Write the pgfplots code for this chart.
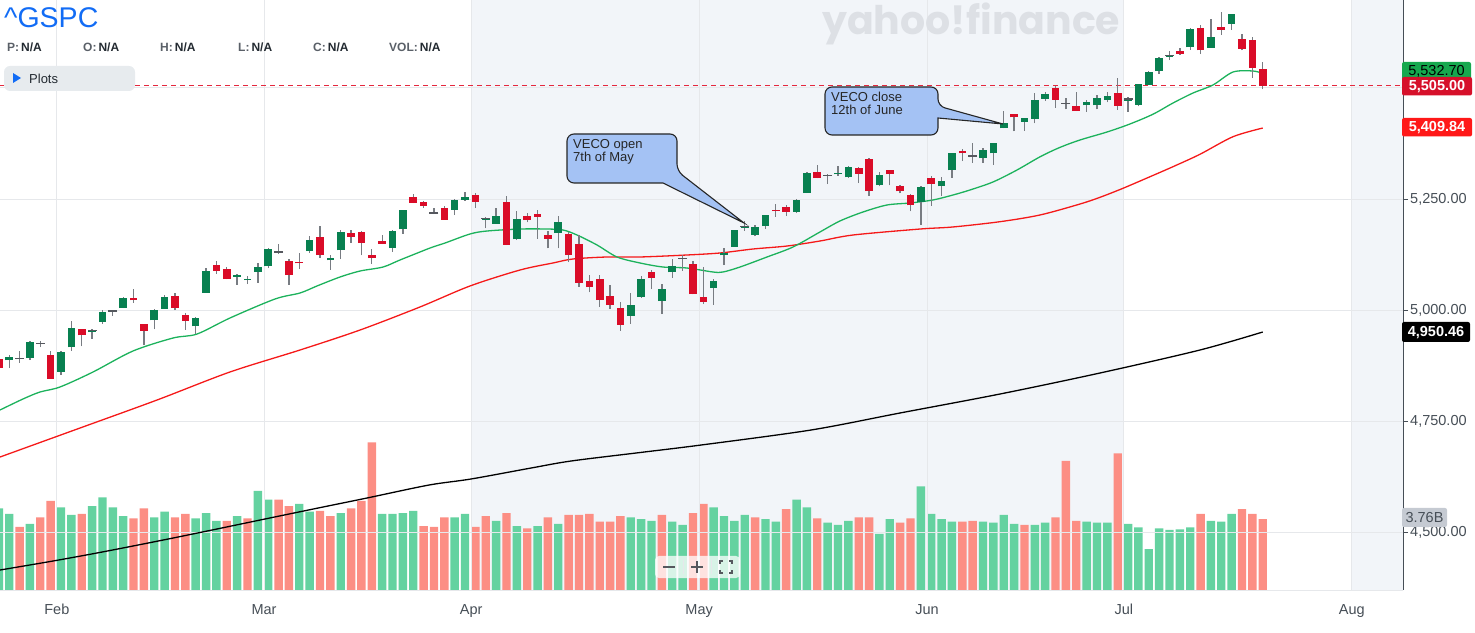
\documentclass[border=0pt]{standalone}
\usepackage{fontspec}
\setmainfont{Liberation Sans}
\newfontfamily\poppins{Poppins}
\usepackage{graphicx}
\usepackage{pgfplots}
\pgfplotsset{compat=1.18}
\usepackage{pgfplotstable}

\definecolor{shadecol}{RGB}{242,245,249}
\definecolor{gridcol}{RGB}{230,232,235}
\definecolor{labelcol}{RGB}{70,78,86}
\definecolor{axiscol}{RGB}{70,78,86}
\definecolor{candleup}{RGB}{8,128,80}
\definecolor{candledn}{RGB}{218,12,40}
\definecolor{wickcol}{RGB}{120,124,130}
\definecolor{dojicol}{RGB}{85,88,94}
\definecolor{volup}{RGB}{100,210,160}
\definecolor{voldn}{RGB}{252,142,132}
\definecolor{magreen}{RGB}{28,178,92}
\definecolor{mared}{RGB}{245,25,25}
\definecolor{dashred}{RGB}{228,40,62}
\definecolor{yblue}{RGB}{18,108,245}
\definecolor{stattext}{RGB}{35,42,49}
\definecolor{statgray}{RGB}{90,96,104}
\definecolor{plotsbg}{RGB}{231,235,238}
\definecolor{watermark}{RGB}{221,224,229}
\definecolor{callout}{RGB}{164,194,244}
\definecolor{lblgreen}{RGB}{22,168,78}
\definecolor{lbllast}{RGB}{214,16,42}
\definecolor{lblred}{RGB}{255,24,24}
\definecolor{lblgray}{RGB}{197,202,210}

% candles: i = trading day (0 = 1 Feb 2024), open high low close
\pgfplotstableread{
i o h l c
-5 4886.66 4898.15 4869.34 4894.16
-4 4888.91 4906.69 4881.47 4890.97
-3 4892.95 4929.31 4887.40 4927.93
0 4861.11 4906.97 4853.52 4906.19
1 4916.06 4975.29 4907.99 4958.61
3 4950.16 4957.77 4934.88 4954.23
4 4973.05 4999.89 4969.05 4995.06
5 4995.16 5000.40 4987.09 4997.91
6 5004.17 5030.06 5004.17 5026.61
9 4976.44 5002.52 4956.45 5000.62
10 5003.14 5032.72 5003.14 5029.73
13 4963.03 4983.21 4946.00 4981.80
14 5038.83 5094.39 5038.83 5087.03
17 5074.60 5080.69 5057.29 5078.18
18 5067.20 5077.37 5058.35 5069.76
19 5085.36 5104.99 5061.89 5096.27
20 5098.51 5140.33 5094.16 5137.08
24 5132.38 5165.62 5128.21 5157.36
26 5111.96 5124.66 5091.14 5117.94
27 5134.30 5179.87 5114.48 5175.27
32 5139.09 5180.31 5131.59 5178.51
33 5181.69 5226.19 5171.55 5224.62
38 5226.31 5249.26 5213.92 5248.49
39 5248.03 5264.85 5245.82 5254.35
41 5204.29 5208.34 5184.05 5205.81
42 5194.37 5228.75 5194.37 5211.49
44 5158.95 5222.18 5157.21 5204.34
48 5172.95 5211.78 5138.77 5199.06
55 4987.33 5038.84 4969.40 5010.60
56 5028.85 5076.12 5027.96 5070.55
58 5019.88 5057.75 4990.58 5048.42
59 5084.65 5114.62 5073.14 5099.96
60 5114.13 5123.49 5088.65 5116.17
63 5049.32 5069.90 5011.38 5064.20
64 5122.78 5139.12 5101.22 5127.79
65 5142.42 5181.00 5142.42 5180.74
66 5187.20 5200.23 5178.96 5187.70
67 5168.76 5191.95 5165.86 5187.67
68 5189.03 5214.42 5182.64 5214.08
71 5221.10 5250.37 5217.98 5246.68
72 5263.26 5311.76 5263.26 5308.15
74 5303.10 5305.45 5283.59 5303.27
75 5305.35 5325.32 5302.40 5308.13
76 5298.69 5324.32 5297.87 5321.41
79 5281.45 5311.65 5278.39 5304.72
83 5243.21 5280.33 5191.68 5277.51
85 5278.24 5298.80 5257.63 5291.34
86 5314.48 5354.16 5297.64 5354.03
88 5343.81 5375.08 5331.33 5346.99
89 5341.22 5365.79 5331.52 5360.79
90 5353.00 5375.95 5327.25 5375.32
91 5409.13 5447.25 5409.13 5421.03
93 5424.08 5432.39 5403.75 5431.60
94 5431.11 5488.50 5420.40 5473.23
95 5476.15 5490.38 5471.32 5487.03
99 5460.73 5472.88 5446.56 5469.30
100 5460.71 5483.14 5451.87 5477.90
101 5473.59 5490.81 5467.54 5482.87
103 5471.08 5479.55 5446.53 5475.09
104 5461.84 5509.69 5458.43 5509.01
105 5507.44 5539.27 5507.42 5537.02
106 5537.91 5570.33 5531.63 5567.19
107 5572.75 5583.11 5562.51 5572.85
109 5591.26 5635.39 5586.44 5633.91
111 5590.76 5655.56 5590.44 5615.35
113 5644.09 5667.34 5631.47 5667.20
}\upcandles

\pgfplotstableread{
i o h l c
-6 4888.56 4903.68 4865.94 4868.55
-2 4925.89 4931.09 4916.27 4924.97
-1 4899.19 4906.75 4845.15 4845.65
2 4957.19 4957.19 4918.09 4942.81
7 5026.83 5048.39 5016.83 5021.84
8 4967.94 4969.34 4920.31 4953.17
11 5031.13 5038.70 4999.52 5005.57
12 4989.32 4993.71 4955.02 4975.51
15 5100.92 5111.06 5081.46 5088.80
16 5093.00 5097.66 5068.91 5069.53
21 5130.99 5149.67 5127.18 5130.95
22 5110.52 5114.54 5056.82 5078.65
23 5108.03 5127.97 5092.22 5104.76
25 5164.46 5189.26 5117.50 5123.69
28 5173.49 5179.14 5151.88 5165.31
29 5175.14 5176.85 5123.30 5150.48
30 5123.31 5136.86 5104.35 5117.09
31 5154.77 5169.68 5148.37 5149.42
34 5253.43 5261.10 5240.66 5241.53
35 5242.48 5246.09 5229.87 5234.18
36 5219.52 5229.09 5216.09 5218.19
37 5228.85 5235.16 5203.42 5203.58
40 5257.97 5263.95 5229.20 5243.77
43 5244.05 5256.59 5146.06 5147.21
45 5211.37 5219.57 5197.35 5202.39
46 5217.03 5224.81 5160.78 5209.91
47 5167.88 5178.43 5138.70 5160.64
49 5171.51 5175.03 5107.94 5123.41
50 5149.67 5168.43 5052.47 5061.82
51 5064.59 5079.84 5039.83 5051.41
52 5068.97 5077.96 5007.25 5022.21
53 5031.52 5056.66 5001.89 5011.12
54 5005.44 5019.02 4953.56 4967.23
57 5084.65 5089.48 5047.02 5071.63
61 5103.78 5110.83 5035.31 5035.69
62 5029.03 5096.12 5013.45 5018.39
69 5225.49 5239.66 5209.68 5222.68
70 5233.08 5237.26 5211.16 5221.42
73 5310.07 5325.49 5296.19 5297.10
77 5319.28 5323.18 5286.01 5307.01
78 5340.26 5341.88 5256.93 5267.84
80 5315.91 5315.91 5280.89 5306.04
81 5278.73 5282.27 5262.70 5266.95
82 5259.77 5260.21 5222.10 5235.48
84 5297.15 5302.11 5234.32 5283.40
87 5357.80 5362.35 5335.36 5352.96
92 5441.93 5441.93 5402.51 5433.74
96 5499.99 5505.53 5455.56 5473.17
97 5466.77 5478.31 5452.03 5464.62
98 5459.58 5490.81 5447.87 5447.87
102 5488.48 5523.64 5451.12 5460.48
108 5584.24 5590.75 5574.57 5576.98
110 5635.21 5642.45 5576.53 5584.54
112 5638.16 5670.39 5619.85 5631.22
114 5610.07 5622.49 5584.81 5588.27
115 5608.56 5614.05 5522.81 5544.59
116 5543.37 5557.50 5497.04 5505.00
}\dncandles

\pgfplotstableread{
i c
-4 4890.97
-2 4924.97
3 4954.23
5 4997.91
21 5130.95
36 5218.19
41 5205.81
60 5116.17
66 5187.70
74 5303.27
88 5346.99
97 5464.62
103 5475.09
107 5572.85
}\dojis

% volume in billions
\pgfplotstableread{
i v
-6 4.33
-5 4.03
-3 3.50
0 4.38
1 3.98
3 4.44
4 4.91
5 4.38
6 3.92
9 3.85
10 4.15
13 3.80
14 4.08
15 3.67
17 3.92
19 5.26
20 4.79
23 4.56
24 4.15
27 4.08
31 4.03
32 4.03
33 4.08
34 4.20
38 3.85
39 4.03
42 3.67
44 3.39
46 3.39
48 3.50
55 3.85
56 3.76
57 3.67
59 3.62
60 3.45
63 4.38
64 3.92
65 3.67
66 3.98
68 3.75
69 3.62
71 4.79
72 4.38
74 3.57
75 3.45
76 3.67
79 2.97
80 3.75
83 5.49
84 4.03
85 3.75
86 3.62
89 3.62
90 3.57
91 3.98
92 3.50
94 3.45
95 3.57
99 3.62
100 3.57
101 3.57
103 3.50
104 3.32
105 2.17
106 3.27
107 3.18
108 3.21
109 3.32
111 3.67
112 3.62
113 4.03
}\volupt

\pgfplotstableread{
i v
-4 3.34
-2 3.85
-1 4.73
2 4.03
7 3.80
8 4.33
11 3.85
12 4.03
16 3.67
18 3.80
21 4.79
22 4.44
25 4.20
26 3.92
28 4.33
29 4.73
30 7.83
35 3.39
36 3.34
37 3.85
40 3.34
41 3.92
43 4.08
45 3.27
47 3.85
49 3.98
50 3.98
51 4.03
52 3.62
53 3.62
54 3.92
58 3.98
61 4.08
62 4.56
67 3.85
70 4.28
73 3.80
77 3.85
78 3.85
81 3.57
82 3.80
87 3.62
88 3.67
93 3.45
96 3.85
97 6.85
98 3.67
102 7.24
110 4.03
114 4.28
115 4.03
116 3.76
}\voldnt

% moving averages
\pgfplotstableread{
i p
-5.89 4774.8
-3.67 4799.6
-2.03 4815.3
-0.10 4826.6
3.09 4860.4
6.95 4907.7
10.81 4936.9
13.13 4945.9
16.31 4982.0
20.66 5024.8
23.07 5038.3
24.71 5054.1
26.93 5074.3
28.86 5087.8
31.08 5096.8
32.72 5112.6
35.62 5139.6
37.07 5150.9
39.48 5171.2
41.12 5177.9
44.31 5182.4
46.91 5182.4
48.46 5180.2
49.81 5168.9
51.74 5146.4
53.67 5119.4
55.89 5105.9
58.11 5096.8
60.42 5094.6
62.93 5085.6
63.90 5085.6
65.54 5096.8
68.15 5119.4
70.66 5141.9
73.26 5175.7
75.19 5200.5
77.41 5220.7
79.73 5236.5
81.95 5241.0
84.17 5247.8
86.10 5259.0
87.74 5270.3
89.96 5288.3
92.28 5315.3
94.50 5345.0
96.40 5366.0
98.36 5382.9
100.97 5400.9
103.19 5419.0
105.41 5441.0
107.34 5466.2
109.27 5488.7
111.20 5506.8
113.13 5536.0
115.06 5538.3
116.00 5532.7
}\magreent

\pgfplotstableread{
i p
-5.89 4668.9
1.83 4734.2
9.27 4797.3
16.31 4860.4
23.07 4909.9
28.86 4954.9
34.65 5006.8
39.48 5054.1
44.31 5090.1
47.49 5105.9
49.42 5114.9
52.70 5119.4
55.89 5119.4
60.42 5123.9
63.61 5128.4
66.80 5137.4
70.08 5144.1
73.26 5155.4
76.45 5168.9
82.92 5182.4
86.10 5187.0
90.64 5198.9
94.50 5214.0
98.36 5238.7
100.29 5253.8
102.51 5274.1
105.12 5300.2
107.34 5322.8
109.94 5350.7
113.13 5390.3
116.00 5409.84
}\maredt

\pgfplotstableread{
i p
-5.89 4414.4
-0.77 4434.7
3.96 4454.9
9.85 4481.9
14.58 4504.5
19.69 4529.3
24.81 4554.0
29.54 4576.6
35.52 4605.8
39.58 4619.4
45.37 4644.1
49.23 4659.9
55.89 4679.0
61.78 4695.9
72.39 4729.7
80.98 4768.0
90.64 4810.8
100.29 4858.1
109.94 4909.9
116.00 4950.46
}\mablackt

\newcommand\stat[2]{{\color{statgray}#1}\,{\color{stattext}#2}}

\begin{document}
\begin{tikzpicture}
\useasboundingbox (0,0) rectangle (1475pt,632pt);

% ---- background bands and volume ----
\begin{axis}[
  at={(0pt,42pt)}, anchor=south west,
  width=1403pt, height=590pt, scale only axis,
  xmin=-5.89, xmax=129.54, ymin=0, ymax=31.27,
  hide axis, clip=true]
\addplot[fill=shadecol, draw=none, forget plot] coordinates {(39.6,31.27) (102.6,31.27)} \closedcycle;
\addplot[fill=shadecol, draw=none, forget plot] coordinates {(124.6,31.27) (129.54,31.27)} \closedcycle;
\addplot[ybar, bar width=8.4pt, bar shift=0pt, fill=volup, draw=none] table[x=i, y=v] {\volupt};
\addplot[ybar, bar width=8.4pt, bar shift=0pt, fill=voldn, draw=none] table[x=i, y=v] {\voldnt};
\end{axis}

% ---- price ----
\begin{axis}[
  at={(0pt,42pt)}, anchor=south west,
  width=1403pt, height=590pt, scale only axis,
  xmin=-5.89, xmax=129.54, ymin=4369.4, ymax=5698.2,
  axis x line*=bottom, axis y line*=right,
  x axis line style={draw=gridcol, line width=1pt},
  y axis line style={draw=axiscol, line width=1pt},
  xtick={-0.4,19.6,39.6,61.6,83.6,102.6,124.6},
  xticklabels={Feb,Mar,Apr,May,Jun,Jul,Aug},
  ytick={4500,4750,5000,5250,5500},
  yticklabels={{4,500.00},{4,750.00},{5,000.00},{5,250.00},{5,500.00}},
  xmajorgrids, ymajorgrids,
  major grid style={draw=gridcol, line width=1pt},
  xtick style={draw=none},
  ytick style={draw=axiscol, line width=0.8pt},
  major tick length=5pt, tick align=outside,
  tick label style={font=\fontsize{14.5}{16}\selectfont, text=labelcol},
  yticklabel style={anchor=west, inner sep=0pt, xshift=2pt},
  xticklabel style={anchor=north, inner sep=0pt, yshift=-9pt},
  clip=true]
% dashed last price line
\addplot[draw=dashred, line width=1.2pt, dash pattern=on 5pt off 4pt, mark=none, forget plot] coordinates {(-5.89,5505) (129.54,5505)};
% moving averages
\addplot[draw=black, line width=1.3pt, mark=none, smooth] table[x=i, y=p] {\mablackt};
\addplot[draw=mared, line width=1.3pt, mark=none, smooth] table[x=i, y=p] {\maredt};
\addplot[draw=magreen, line width=1.3pt, mark=none, smooth] table[x=i, y=p] {\magreent};
% wicks
\addplot[draw=none, mark=none, error bars/.cd, y dir=plus, y explicit, error mark=none,
  error bar style={draw=wickcol, line width=1.3pt}]
  table[x=i, y=l, y error plus expr=\thisrow{h}-\thisrow{l}, y error minus expr=0] {\upcandles};
\addplot[draw=none, mark=none, error bars/.cd, y dir=plus, y explicit, error mark=none,
  error bar style={draw=wickcol, line width=1.3pt}]
  table[x=i, y=l, y error plus expr=\thisrow{h}-\thisrow{l}, y error minus expr=0] {\dncandles};
% bodies
\addplot[draw=none, mark=none, error bars/.cd, y dir=plus, y explicit, error mark=none,
  error bar style={draw=candleup, line width=7.6pt}]
  table[x=i, y=o, y error plus expr=\thisrow{c}-\thisrow{o}, y error minus expr=0] {\upcandles};
\addplot[draw=none, mark=none, error bars/.cd, y dir=plus, y explicit, error mark=none,
  error bar style={draw=candledn, line width=7.6pt}]
  table[x=i, y=c, y error plus expr=\thisrow{o}-\thisrow{c}, y error minus expr=0] {\dncandles};
% doji bars
\addplot[only marks, mark=-, mark size=4.5pt, mark options={draw=dojicol, line width=1.4pt}] table[x=i, y=c] {\dojis};
\end{axis}

\begin{scope}[x=1pt, y=-1pt, yshift=632pt]
% watermark
\node[anchor=west, inner sep=0pt, text=watermark] at (822,23.5) {\resizebox{298pt}{!}{\poppins\bfseries yahoo!finance}};
% header
\node[anchor=base west, inner sep=0pt, text=yblue, font=\fontsize{28.5}{30}\selectfont] at (4,28) {\^{}GSPC};
\begin{scope}[every node/.style={anchor=base west, inner sep=0pt, font=\fontsize{12}{13}\selectfont\bfseries}]
\node at (7,52) {\stat{P:}{N/A}};
\node at (83,52) {\stat{O:}{N/A}};
\node at (160,52) {\stat{H:}{N/A}};
\node at (238,52) {\stat{L:}{N/A}};
\node at (313,52) {\stat{C:}{N/A}};
\node at (389,52) {\stat{VOL:}{N/A}};
\end{scope}
\fill[plotsbg, rounded corners=6pt] (4,66) rectangle (135,91);
\fill[yblue] (13,73) -- (21,78) -- (13,83) -- cycle;
\node[anchor=base west, inner sep=0pt, font=\fontsize{13}{14}\selectfont, text=stattext] at (29,83.5) {Plots};

% callout 1
\draw[fill=callout, draw=black!85, line width=1.1pt, rounded corners=7pt]
  (567,160) -- (567,134) -- (677,134) -- (677,171) [sharp corners] -- (744,223) -- (663,183) [rounded corners=7pt] -- (567,183) -- cycle;
\node[anchor=base west, inner sep=0pt, font=\fontsize{13}{14}\selectfont, text=black!85] at (573,149) {VECO open};
\node[anchor=base west, inner sep=0pt, font=\fontsize{13}{14}\selectfont, text=black!85] at (573,162) {7th of May};
% callout 2
\draw[fill=callout, draw=black!85, line width=1.1pt, rounded corners=7pt]
  (825,110) -- (825,87) -- (938,87) -- (938,106) [sharp corners] -- (1003,124) -- (938,118) [rounded corners=7pt] -- (938,135) -- (825,135) -- cycle;
\node[anchor=base west, inner sep=0pt, font=\fontsize{13}{14}\selectfont, text=black!85] at (831,102) {VECO close};
\node[anchor=base west, inner sep=0pt, font=\fontsize{13}{14}\selectfont, text=black!85] at (831,115) {12th of June};

% right-hand price labels
\fill[lblgreen, rounded corners=2pt] (1402,62) rectangle (1471,80);
\node[inner sep=0pt, font=\fontsize{14.5}{16}\selectfont, text=black] at (1436.5,71) {5,532.70};
\fill[lbllast, rounded corners=2pt] (1402,77) rectangle (1472,95.5);
\node[inner sep=0pt, font=\fontsize{14.5}{16}\selectfont\bfseries, text=white] at (1437,86.5) {5,505.00};
\fill[lblred, rounded corners=2pt] (1402,118) rectangle (1472,136.5);
\node[inner sep=0pt, font=\fontsize{14.5}{16}\selectfont\bfseries, text=white] at (1437,127.5) {5,409.84};
\fill[black, rounded corners=2pt] (1402,322) rectangle (1470,342);
\node[inner sep=0pt, font=\fontsize{14.5}{16}\selectfont\bfseries, text=white] at (1436,332.5) {4,950.46};
\fill[lblgray, rounded corners=2pt] (1402,508) rectangle (1447,527);
\node[inner sep=0pt, font=\fontsize{14.5}{16}\selectfont, text=labelcol] at (1424.5,518) {3.76B};

% zoom control
\fill[white, opacity=0.75, rounded corners=4pt] (655,556) rectangle (740,578);
\draw[gridcol, line width=0.8pt] (683,560) -- (683,574) (711,560) -- (711,574);
\draw[dojicol, line width=2.2pt] (663,567) -- (675,567);
\draw[dojicol, line width=2.2pt] (691,567) -- (703,567) (697,561) -- (697,573);
\draw[dojicol, line width=1.6pt] (720,564) -- (720,561) -- (723,561) (729,561) -- (732,561) -- (732,564)
  (732,570) -- (732,573) -- (729,573) (723,573) -- (720,573) -- (720,570);
\end{scope}
\end{tikzpicture}
\end{document}
